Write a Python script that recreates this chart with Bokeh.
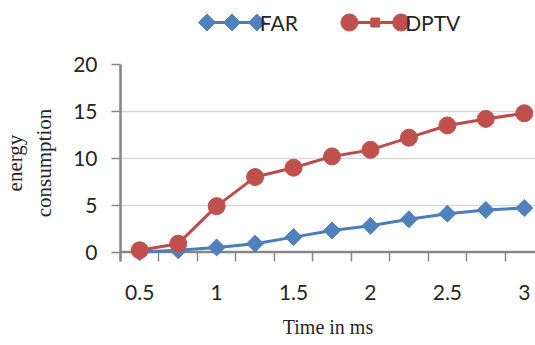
import math
from bokeh.plotting import figure
from bokeh.models import Range1d, FixedTicker, Span
from bokeh.layouts import column
from bokeh.embed import file_html
from bokeh.resources import INLINE
from bokeh.core.properties import value

# ---- data ----
time_ms = [0.5, 0.75, 1.0, 1.25, 1.5, 1.75, 2.0, 2.25, 2.5, 2.75, 3.0]
far = [0.0, 0.2, 0.5, 0.9, 1.6, 2.3, 2.8, 3.5, 4.1, 4.5, 4.7]
dptv = [0.2, 0.9, 4.9, 8.0, 9.0, 10.2, 10.9, 12.2, 13.5, 14.2, 14.8]
x_tick_values = [0.5, 1.0, 1.5, 2.0, 2.5, 3.0]
x_tick_labels = ["0.5", "1", "1.5", "2", "2.5", "3"]
y_ticks = [0, 5, 10, 15, 20]
series_names = ["FAR", "DPTV"]
x_title = "Time in ms"
y_title = "energy\nconsumption"

# ---- styles ----
BLUE_LINE, BLUE = "#4a7ebb", "#4f81bd"
RED_LINE, RED = "#be4b48", "#c0504d"
AXIS = "#868686"
GRID = "#d9d9d9"
TXT = "#262626"
SANS = "Lato"
SERIF = "Liberation Serif"
step = time_ms[1] - time_ms[0]
Y_LOW = -1.0

# ---- main chart ----
p = figure(width=535, height=300, output_backend="svg", toolbar_location=None,
           x_range=Range1d(time_ms[0] - step / 2, 3.073), y_range=Range1d(Y_LOW, 20),
           min_border_left=118, min_border_right=0, min_border_top=19, min_border_bottom=84)
p.outline_line_color = None
p.background_fill_color = "white"
p.border_fill_color = "white"

p.xgrid.visible = False
p.ygrid.ticker = FixedTicker(ticks=[t for t in y_ticks if t > 0])
p.ygrid.grid_line_color = GRID
p.ygrid.grid_line_width = 1.5

xa = p.xaxis[0]
xa.ticker = FixedTicker(ticks=x_tick_values, minor_ticks=[t - step / 2 for t in time_ms])
xa.major_label_overrides = dict(zip(x_tick_values, x_tick_labels))
xa.axis_line_color = None
xa.major_tick_line_color = None
xa.major_tick_out = 0
xa.major_tick_in = 0
xa.minor_tick_out = 0
xa.minor_tick_in = 9
xa.minor_tick_line_color = AXIS
xa.minor_tick_line_width = 1.5
xa.major_label_standoff = 23
xa.major_label_text_font = SANS
xa.major_label_text_font_size = "21px"
xa.major_label_text_color = TXT
xa.axis_label = x_title
xa.axis_label_text_font = SERIF
xa.axis_label_text_font_style = "normal"
xa.axis_label_text_font_size = "20px"
xa.axis_label_text_color = TXT
xa.axis_label_standoff = 13

ya = p.yaxis[0]
ya.ticker = FixedTicker(ticks=y_ticks)
ya.major_tick_out = 9
ya.major_tick_in = 0
ya.major_tick_line_color = AXIS
ya.major_tick_line_width = 1.5
ya.minor_tick_line_color = None
ya.axis_line_color = AXIS
ya.axis_line_width = 2.5
ya.major_label_standoff = 14
ya.major_label_text_font = SANS
ya.major_label_text_font_size = "21px"
ya.major_label_text_color = TXT
ya.axis_label = y_title
ya.axis_label_text_font = SERIF
ya.axis_label_text_font_style = "normal"
ya.axis_label_text_font_size = "21px"
ya.axis_label_text_color = TXT
ya.axis_label_standoff = 14

# horizontal axis line at y = 0
p.add_layout(Span(location=0, dimension="width", line_color=AXIS, line_width=2.5, level="underlay"))

p.line(time_ms, far, line_color=BLUE_LINE, line_width=3)
p.scatter(time_ms, far, marker="square", angle=math.pi / 4, size=12,
          fill_color=BLUE, line_color=BLUE)
p.line(time_ms, dptv, line_color=RED_LINE, line_width=3)
p.scatter(time_ms, dptv, marker="circle", size=17, fill_color=RED, line_color=RED)

# ---- legend strip (frame aligned with main frame: x in canvas pixels) ----
lg = figure(width=535, height=45, output_backend="svg", toolbar_location=None,
            x_range=Range1d(118, 535), y_range=Range1d(0, 45),
            x_axis_location=None, y_axis_location=None,
            min_border_left=118, min_border_right=0, min_border_top=0, min_border_bottom=0)
lg.outline_line_color = None
lg.xgrid.visible = False
lg.ygrid.visible = False
ly = 23
# FAR
lg.line([205, 255], [ly, ly], line_color=BLUE_LINE, line_width=3)
lg.scatter([205, 230, 255], [ly] * 3, marker="square", angle=math.pi / 4, size=12,
           fill_color=BLUE, line_color=BLUE)
lg.text([258], [ly], text=[series_names[0]], text_font=value(SANS), text_font_size="21px",
        text_baseline="middle", text_color=TXT)
# DPTV
lg.line([348, 400], [ly, ly], line_color=RED_LINE, line_width=3)
lg.scatter([348, 400], [ly] * 2, marker="circle", size=17, fill_color=RED, line_color=RED)
lg.scatter([374], [ly], marker="square", size=9, fill_color=RED, line_color=RED)
lg.text([404], [ly], text=[series_names[1]], text_font=value(SANS), text_font_size="21px",
        text_baseline="middle", text_color=TXT)

layout = column(lg, p, spacing=0)
open("out.html", "w").write(file_html(layout, INLINE))
